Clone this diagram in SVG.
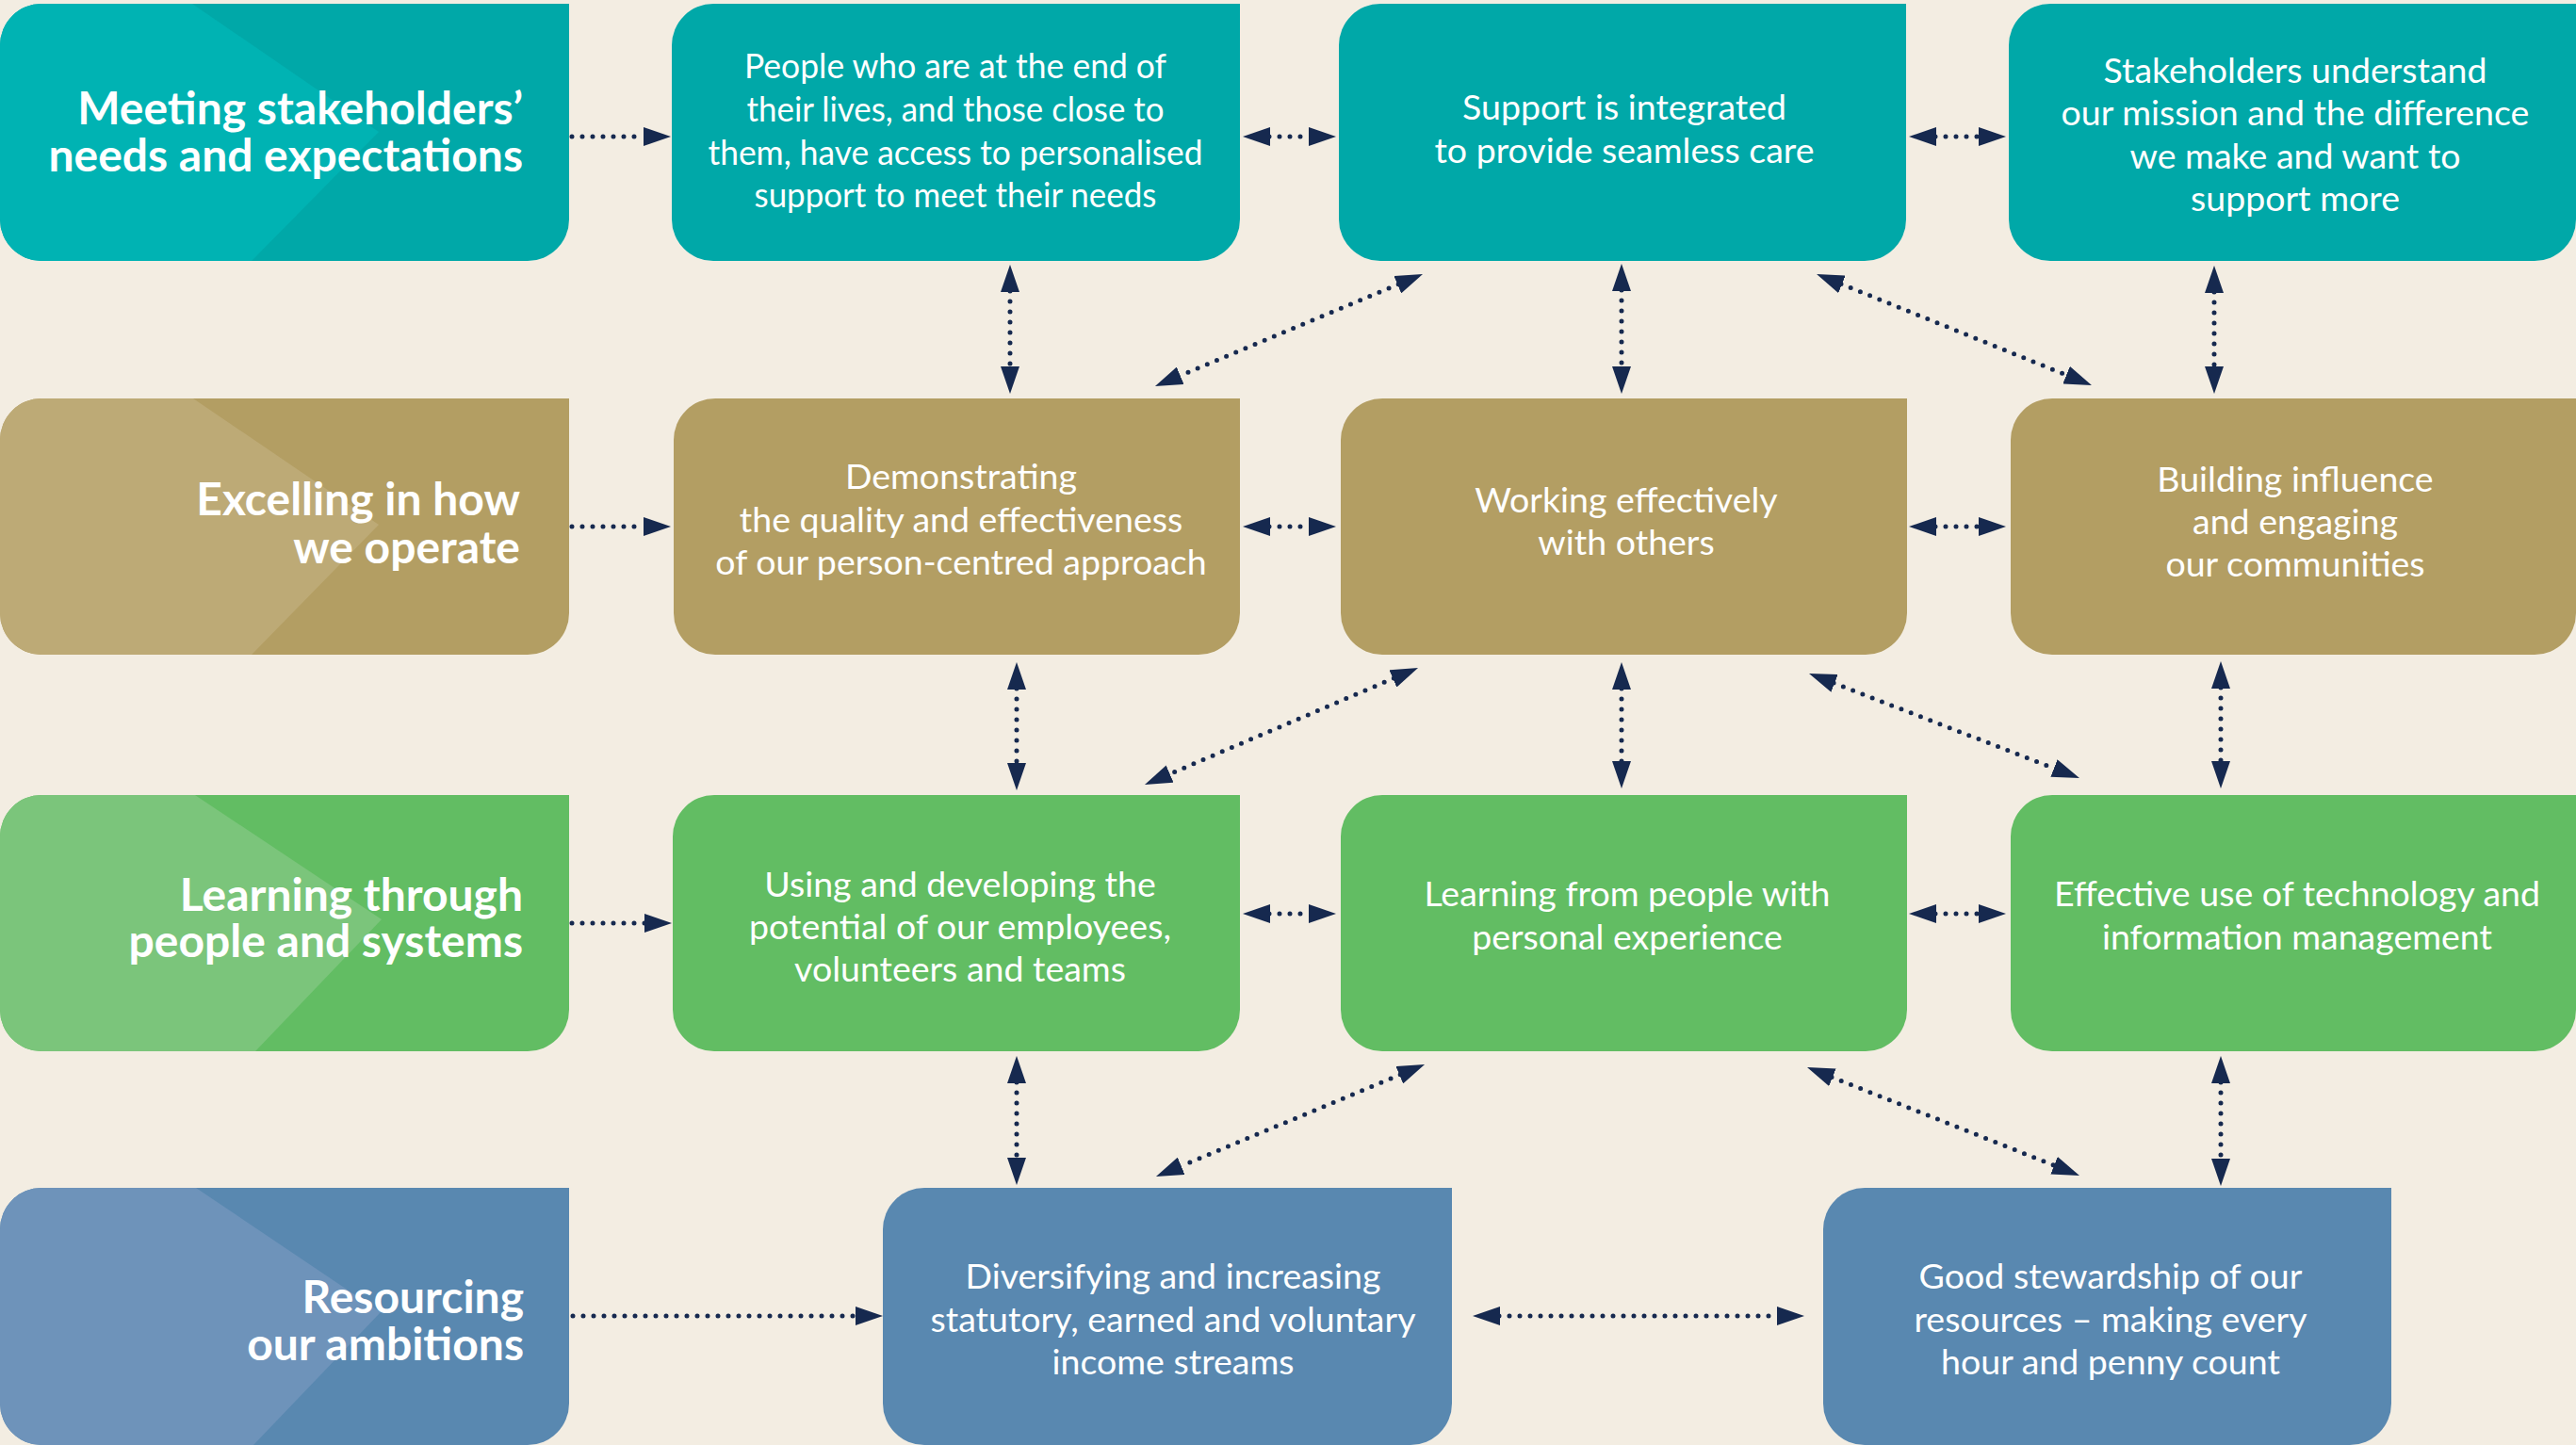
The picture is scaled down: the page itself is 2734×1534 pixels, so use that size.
<svg xmlns="http://www.w3.org/2000/svg" width="2734" height="1534" viewBox="0 0 2734 1534">
<style>
.hd{font-family:Lato,"Open Sans","Liberation Sans",sans-serif;font-weight:700;font-size:48px;fill:#fff;text-anchor:end}
.bt{font-family:Lato,"Open Sans","Liberation Sans",sans-serif;font-weight:400;font-size:37.5px;fill:#fff;text-anchor:middle}
.teal{fill:#00A8A8}.tealL{fill:#00B3B3}
.tan{fill:#B39E63}.tanL{fill:#BDAA76}
.grn{fill:#62BD63}.grnL{fill:#7BC57B}
.blu{fill:#5988B0}.bluL{fill:#6E93BA}
.c{fill:none;stroke:#16294F;stroke-width:5;stroke-linecap:round;stroke-dasharray:0 11}
.ce{marker-end:url(#ah)}
.cb{marker-start:url(#ah);marker-end:url(#ah)}
</style>
<defs>
<marker id="ah" markerUnits="userSpaceOnUse" markerWidth="30" markerHeight="20" viewBox="0 0 30 20" refX="1" refY="10" orient="auto-start-reverse">
<path d="M0,0 L29,10 L0,20 Z" fill="#16294F"/>
</marker>
<clipPath id="k1"><path d="M44,4 H604 V233 A44 44 0 0 1 560,277 H44 A44 44 0 0 1 0,233 V48 A44 44 0 0 1 44,4 Z"/></clipPath>
<clipPath id="k2"><path d="M44,423 H604 V651 A44 44 0 0 1 560,695 H44 A44 44 0 0 1 0,651 V467 A44 44 0 0 1 44,423 Z"/></clipPath>
<clipPath id="k3"><path d="M44,844 H604 V1072 A44 44 0 0 1 560,1116 H44 A44 44 0 0 1 0,1072 V888 A44 44 0 0 1 44,844 Z"/></clipPath>
<clipPath id="k4"><path d="M44,1261 H604 V1490 A44 44 0 0 1 560,1534 H44 A44 44 0 0 1 0,1490 V1305 A44 44 0 0 1 44,1261 Z"/></clipPath>
</defs>
<rect width="2734" height="1534" fill="#F3EDE2"/>

<g id="connectors">
<line class="c ce" x1="607" y1="145" x2="684" y2="145"/>
<line class="c cb" x1="1347" y1="145" x2="1390" y2="145"/>
<line class="c cb" x1="2054" y1="145" x2="2101" y2="145"/>
<line class="c ce" x1="607" y1="559" x2="684" y2="559"/>
<line class="c cb" x1="1347" y1="559" x2="1390" y2="559"/>
<line class="c cb" x1="2054" y1="559" x2="2101" y2="559"/>
<line class="c ce" x1="607" y1="980" x2="685" y2="980"/>
<line class="c cb" x1="1347" y1="970" x2="1390" y2="970"/>
<line class="c cb" x1="2054" y1="970" x2="2101" y2="970"/>
<line class="c ce" x1="608" y1="1397" x2="909" y2="1397"/>
<line class="c cb" x1="1591" y1="1397" x2="1887" y2="1397"/>

<line class="c cb" x1="1072" y1="309" x2="1072" y2="390"/>
<line class="c cb" x1="1721" y1="308" x2="1721" y2="390"/>
<line class="c cb" x1="2350" y1="310" x2="2350" y2="390"/>
<line class="c cb" x1="1079" y1="731" x2="1079" y2="811"/>
<line class="c cb" x1="1721" y1="731" x2="1721" y2="809"/>
<line class="c cb" x1="2357" y1="730" x2="2357" y2="809"/>
<line class="c cb" x1="1079" y1="1149" x2="1079" y2="1230"/>
<line class="c cb" x1="2357" y1="1149" x2="2357" y2="1231"/>

<line class="c cb" x1="1484.2" y1="301.8" x2="1251.8" y2="399.2"/>
<line class="c cb" x1="1954" y1="301.5" x2="2194" y2="398.5"/>
<line class="c cb" x1="1479.3" y1="720" x2="1240.7" y2="822"/>
<line class="c cb" x1="1946.1" y1="725.1" x2="2180.9" y2="815.9"/>
<line class="c cb" x1="1486.2" y1="1140.8" x2="1252.8" y2="1238.2"/>
<line class="c cb" x1="1944" y1="1143.4" x2="2181" y2="1237.6"/>
</g>

<g id="h1">
<path class="teal" d="M44,4 H604 V233 A44 44 0 0 1 560,277 H44 A44 44 0 0 1 0,233 V48 A44 44 0 0 1 44,4 Z"/>
<polygon class="tealL" clip-path="url(#k1)" points="0,4 204,4 402,140 267,277 0,277"/>
<text class="hd"><tspan x="555" y="132">Meeting stakeholders’</tspan><tspan x="555" y="182">needs and expectations</tspan></text>
</g>
<g id="h2">
<path class="tan" d="M44,423 H604 V651 A44 44 0 0 1 560,695 H44 A44 44 0 0 1 0,651 V467 A44 44 0 0 1 44,423 Z"/>
<polygon class="tanL" clip-path="url(#k2)" points="0,423 205,423 402,557 267,695 0,695"/>
<text class="hd"><tspan x="552" y="547">Excelling in how</tspan><tspan x="552" y="598">we operate</tspan></text>
</g>
<g id="h3">
<path class="grn" d="M44,844 H604 V1072 A44 44 0 0 1 560,1116 H44 A44 44 0 0 1 0,1072 V888 A44 44 0 0 1 44,844 Z"/>
<polygon class="grnL" clip-path="url(#k3)" points="0,844 207,844 405,976 271,1116 0,1116"/>
<text class="hd"><tspan x="555" y="967">Learning through</tspan><tspan x="555" y="1016">people and systems</tspan></text>
</g>
<g id="h4">
<path class="blu" d="M44,1261 H604 V1490 A44 44 0 0 1 560,1534 H44 A44 44 0 0 1 0,1490 V1305 A44 44 0 0 1 44,1261 Z"/>
<polygon class="bluL" clip-path="url(#k4)" points="0,1261 208,1261 404,1393 269,1534 0,1534"/>
<text class="hd"><tspan x="556" y="1394">Resourcing</tspan><tspan x="556" y="1444">our ambitions</tspan></text>
</g>

<g id="a1">
<path class="teal" d="M757,4 H1316 V233 A44 44 0 0 1 1272,277 H757 A44 44 0 0 1 713,233 V48 A44 44 0 0 1 757,4 Z"/>
<text class="bt"><tspan x="1014" y="83" textLength="448" lengthAdjust="spacingAndGlyphs">People who are at the end of</tspan><tspan x="1014" y="129" textLength="443" lengthAdjust="spacingAndGlyphs">their lives, and those close to</tspan><tspan x="1014" y="175" textLength="525" lengthAdjust="spacingAndGlyphs">them, have access to personalised</tspan><tspan x="1014" y="220" textLength="427" lengthAdjust="spacingAndGlyphs">support to meet their needs</tspan></text>
</g>
<g id="b1">
<path class="teal" d="M1465,4 H2023 V233 A44 44 0 0 1 1979,277 H1465 A44 44 0 0 1 1421,233 V48 A44 44 0 0 1 1465,4 Z"/>
<text class="bt"><tspan x="1724" y="127">Support is integrated</tspan><tspan x="1724" y="173">to provide seamless care</tspan></text>
</g>
<g id="c1">
<path class="teal" d="M2176,4 H2734 V233 A44 44 0 0 1 2690,277 H2176 A44 44 0 0 1 2132,233 V48 A44 44 0 0 1 2176,4 Z"/>
<text class="bt"><tspan x="2436" y="88">Stakeholders understand</tspan><tspan x="2436" y="133">our mission and the difference</tspan><tspan x="2436" y="179">we make and want to</tspan><tspan x="2436" y="224">support more</tspan></text>
</g>

<g id="a2">
<path class="tan" d="M759,423 H1316 V651 A44 44 0 0 1 1272,695 H759 A44 44 0 0 1 715,651 V467 A44 44 0 0 1 759,423 Z"/>
<text class="bt"><tspan x="1020" y="519">Demonstrating</tspan><tspan x="1020" y="565">the quality and effectiveness</tspan><tspan x="1020" y="610">of our person-centred approach</tspan></text>
</g>
<g id="b2">
<path class="tan" d="M1467,423 H2024 V651 A44 44 0 0 1 1980,695 H1467 A44 44 0 0 1 1423,651 V467 A44 44 0 0 1 1467,423 Z"/>
<text class="bt"><tspan x="1726" y="544">Working effectively</tspan><tspan x="1726" y="589">with others</tspan></text>
</g>
<g id="c2">
<path class="tan" d="M2178,423 H2734 V651 A44 44 0 0 1 2690,695 H2178 A44 44 0 0 1 2134,651 V467 A44 44 0 0 1 2178,423 Z"/>
<text class="bt"><tspan x="2436" y="522">Building influence</tspan><tspan x="2436" y="567">and engaging</tspan><tspan x="2436" y="612">our communities</tspan></text>
</g>

<g id="a3">
<path class="grn" d="M758,844 H1316 V1072 A44 44 0 0 1 1272,1116 H758 A44 44 0 0 1 714,1072 V888 A44 44 0 0 1 758,844 Z"/>
<text class="bt"><tspan x="1019" y="952">Using and developing the</tspan><tspan x="1019" y="997">potential of our employees,</tspan><tspan x="1019" y="1042">volunteers and teams</tspan></text>
</g>
<g id="b3">
<path class="grn" d="M1467,844 H2024 V1072 A44 44 0 0 1 1980,1116 H1467 A44 44 0 0 1 1423,1072 V888 A44 44 0 0 1 1467,844 Z"/>
<text class="bt"><tspan x="1727" y="962">Learning from people with</tspan><tspan x="1727" y="1008">personal experience</tspan></text>
</g>
<g id="c3">
<path class="grn" d="M2178,844 H2734 V1072 A44 44 0 0 1 2690,1116 H2178 A44 44 0 0 1 2134,1072 V888 A44 44 0 0 1 2178,844 Z"/>
<text class="bt"><tspan x="2438" y="962">Effective use of technology and</tspan><tspan x="2438" y="1008">information management</tspan></text>
</g>

<g id="d4">
<path class="blu" d="M981,1261 H1541 V1490 A44 44 0 0 1 1497,1534 H981 A44 44 0 0 1 937,1490 V1305 A44 44 0 0 1 981,1261 Z"/>
<text class="bt"><tspan x="1245" y="1368">Diversifying and increasing</tspan><tspan x="1245" y="1414">statutory, earned and voluntary</tspan><tspan x="1245" y="1459">income streams</tspan></text>
</g>
<g id="e4">
<path class="blu" d="M1979,1261 H2538 V1490 A44 44 0 0 1 2494,1534 H1979 A44 44 0 0 1 1935,1490 V1305 A44 44 0 0 1 1979,1261 Z"/>
<text class="bt"><tspan x="2240" y="1368">Good stewardship of our</tspan><tspan x="2240" y="1414">resources – making every</tspan><tspan x="2240" y="1459">hour and penny count</tspan></text>
</g>
</svg>
